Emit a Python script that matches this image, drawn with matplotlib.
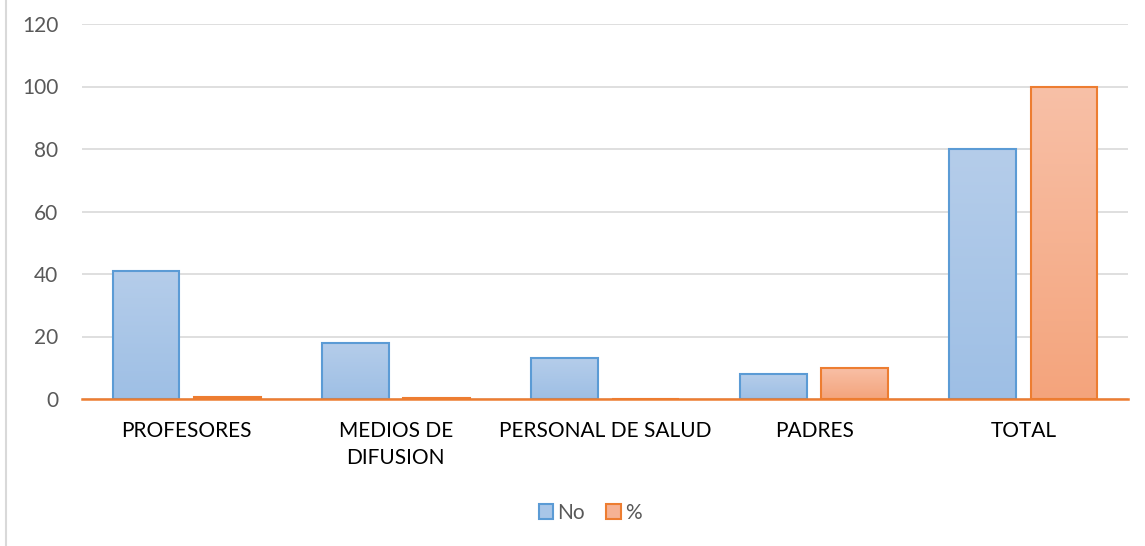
import numpy as np
import matplotlib.pyplot as plt
from matplotlib.colors import LinearSegmentedColormap
from matplotlib.lines import Line2D

categories = ["PROFESORES", "MEDIOS DE\nDIFUSION", "PERSONAL DE SALUD", "PADRES", "TOTAL"]
no_values = [41, 18, 13, 8, 80]
pct_values = [0.51, 0.23, 0.16, 10, 100]
series_names = ["No", "%"]

plt.rcParams['font.family'] = ['Lato', 'DejaVu Sans']

fig = plt.figure(figsize=(11.45, 5.46), dpi=100)
ax = fig.add_axes([82 / 1145, 1 - 399 / 546, (1128 - 82) / 1145, 375 / 546])

x = np.arange(len(categories))
width = 0.32
offset = 0.194

blue_edge = "#5b9bd5"
orange_edge = "#ed7d31"
blue_grad = LinearSegmentedColormap.from_list("b", ["#9ebfe5", "#b5cdea"])
orange_grad = LinearSegmentedColormap.from_list("o", ["#f4a47c", "#f8c0a7"])


def gradient_bars(xs, vals, cmap, edge):
    bars = ax.bar(xs, vals, width, facecolor="none", edgecolor=edge, linewidth=1.5, zorder=3)
    grad = np.linspace(0, 1, 256).reshape(-1, 1)
    for b in bars:
        x0, y0 = b.get_x(), b.get_y()
        w, h = b.get_width(), b.get_height()
        im = ax.imshow(grad, cmap=cmap, origin="lower", aspect="auto",
                       extent=[x0, x0 + w, y0, y0 + h], zorder=2)
        im.set_clip_path(b)
    return bars


gradient_bars(x - offset, no_values, blue_grad, blue_edge)
gradient_bars(x + offset, pct_values, orange_grad, orange_edge)

ax.set_xlim(-0.5, len(categories) - 0.5)
ax.set_ylim(0, 120)
ax.set_yticks(range(0, 121, 20))
ax.yaxis.grid(True, color="#d9d9d9", linewidth=1.2)
ax.set_axisbelow(True)
for s in ["top", "right", "left"]:
    ax.spines[s].set_visible(False)
ax.spines["bottom"].set_color(orange_edge)
ax.spines["bottom"].set_linewidth(1.8)
ax.spines["bottom"].set_zorder(4)

ax.set_xticks(x)
ax.set_xticklabels(categories, fontsize=15, color="#000000", linespacing=1.45, va="top")
ax.tick_params(axis="x", length=0, pad=16)
ax.tick_params(axis="y", length=0, pad=17, labelsize=15, labelcolor="#595959")

handles = [
    plt.Rectangle((0, 0), 1, 1, facecolor="#a9c6e8", edgecolor=blue_edge, linewidth=1.5),
    plt.Rectangle((0, 0), 1, 1, facecolor="#f6b294", edgecolor=orange_edge, linewidth=1.5),
]
fig.legend(handles, series_names, loc="center", bbox_to_anchor=(590 / 1145, 1 - 513 / 546),
           ncol=2, frameon=False, fontsize=15, labelcolor="#595959",
           handlelength=0.7, handleheight=0.7, handletextpad=0.2, columnspacing=1.0)

fig.add_artist(Line2D([6 / 1145, 6 / 1145], [0, 1], color="#d9d9d9", linewidth=1.5))

fig.savefig("out.png", dpi=100)
